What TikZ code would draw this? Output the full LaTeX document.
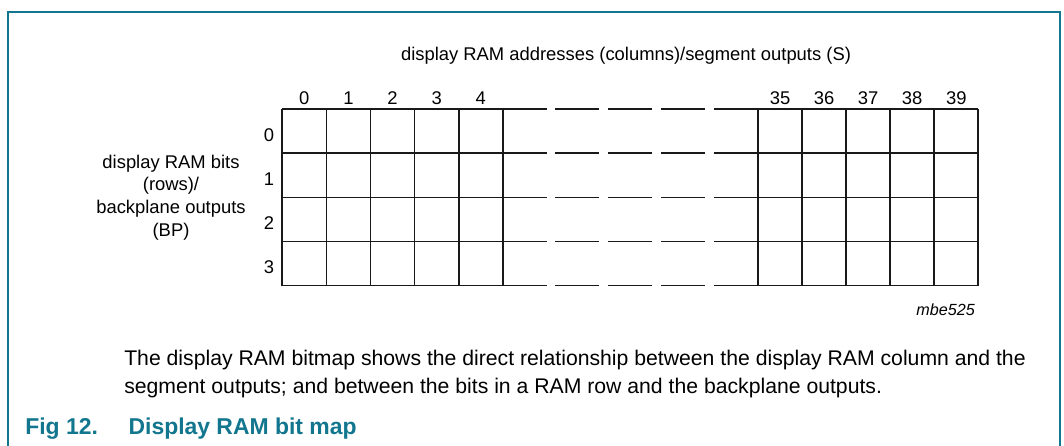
\documentclass[tikz,border=0pt]{standalone}
\usepackage{fontspec}
\setmainfont{Liberation Sans}
\usepackage{xcolor}
\usepackage{tikz}

\definecolor{figteal}{RGB}{18,118,142}

\begin{document}
\begin{tikzpicture}[
    x=0.75pt, y=-0.75pt,
    cell/.style={line width=1.3pt, black!90},
    frame/.style={line width=1.1pt, figteal},
    lbl/.style={inner sep=0pt, font=\fontsize{13.8}{17.1}\selectfont},
    body/.style={inner sep=0pt, anchor=base west, font=\fontsize{15.9}{20}\selectfont},
    caption/.style={inner sep=0pt, anchor=base west, text=figteal, font=\fontsize{17.2}{20}\selectfont\bfseries}
]
\useasboundingbox (0,0) rectangle (1064,446);

% frame of the figure
\draw[frame] (8,446) -- (8,12) -- (1060,12) -- (1060,446);

% solid columns, left and right block
\foreach \i in {0,...,5} {
    \draw[cell] (282.3+44.1*\i,109.3) -- (282.3+44.1*\i,285.5);
    \draw[cell] (758+44.06*\i,109.3) -- (758+44.06*\i,285.5);
}
% rows, broken in the middle
\foreach \j in {0,...,4} {
    \draw[cell] (282.3,109.3+44.05*\j) -- (546.7,109.3+44.05*\j);
    \foreach \a in {555,608,661}
        \draw[cell] (\a,109.3+44.05*\j) -- (\a+44,109.3+44.05*\j);
    \draw[cell] (714,109.3+44.05*\j) -- (978.3,109.3+44.05*\j);
}

% column and row numbers
\foreach \i in {0,...,4}
    \node[lbl, anchor=base] (c\i) at (282.3+44.1*\i+22.05,104) {\i};
\foreach \n [count=\i from 0] in {35,...,39}
    \node[lbl, anchor=base] (c\n) at (758+44.06*\i+22.03,104) {\n};
\foreach \j in {0,...,3}
    \node[lbl, anchor=base] (r\j) at (269,141.7+44.05*\j) {\j};

% axis texts
\node[lbl, anchor=base] (colname) at (626,60) {display RAM addresses (columns)/segment outputs (S)};
\node[lbl, align=center] (rowname) at (171,197.5) {display RAM bits\\(rows)/\\backplane outputs\\(BP)};
\node[inner sep=0pt, anchor=base east, font=\fontsize{12.1}{14}\selectfont\itshape] (figid) at (975,315) {mbe525};

% text under the figure
\node[body] (line1) at (124,365.7) {The display RAM bitmap shows the direct relationship between the display RAM column and the};
\node[body] (line2) at (124,393.5) {segment outputs; and between the bits in a RAM row and the backplane outputs.};
\node[caption] (fignum) at (25,434) {Fig 12.};
\node[caption] (figtitle) at (128.3,434) {Display RAM bit map};
\end{tikzpicture}
\end{document}
